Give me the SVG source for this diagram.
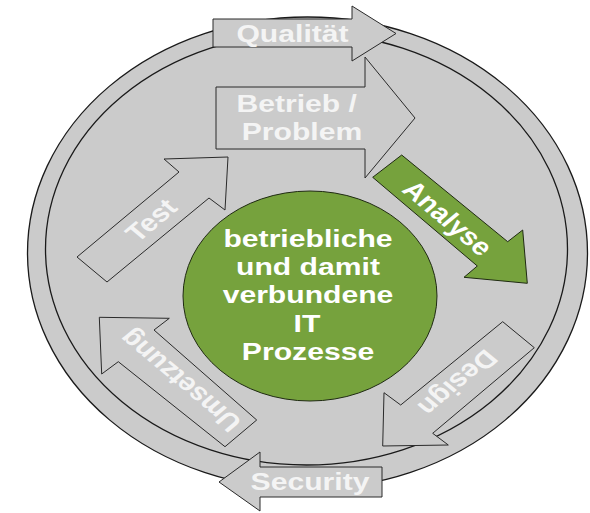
<svg xmlns="http://www.w3.org/2000/svg" width="590" height="513" viewBox="0 0 590 513">
<style>
.ring{fill:#cbcbcb;stroke:#1a1a1a;stroke-width:1.3}
.arr{fill:#cbcbcb;stroke:#2a2a2a;stroke-width:1}
.green{fill:#76a23d;stroke:#1f2a12;stroke-width:1}
.t{font-family:"Liberation Sans",Arial,sans-serif;font-weight:bold;font-size:24.5px;fill:#ffffff;text-anchor:middle}
.g{fill:#f4f4f4}
</style>
<rect width="590" height="513" fill="#ffffff"/>
<g id="ring">
<ellipse class="ring" cx="307.5" cy="253" rx="280" ry="236"/>
<ellipse class="ring" cx="306.5" cy="249" rx="261" ry="216"/>
</g>
<g id="center">
<ellipse class="green" cx="310" cy="296" rx="127" ry="105"/>
<text class="t" transform="translate(308,246.7) scale(1.23,1)">betriebliche</text>
<text class="t" transform="translate(308,275) scale(1.23,1)">und damit</text>
<text class="t" transform="translate(308,303) scale(1.23,1)">verbundene</text>
<text class="t" transform="translate(307,331.7) scale(1.23,1)">IT</text>
<text class="t" transform="translate(308,360) scale(1.23,1)">Prozesse</text>
</g>
<g id="connectors">
<g id="qualitaet">
<polygon class="arr" points="213,19 352,19 352,6 396,33.5 352,61 352,47 213,47"/>
<text class="t g" transform="translate(292.5,41.5) scale(1.23,1)">Qualität</text>
</g>
<g id="betrieb">
<polygon class="arr" points="216,87 365,87 365,57 415,118 365,178 365,149 216,149"/>
<text class="t g" transform="translate(296.7,111.7) scale(1.23,1)">Betrieb /</text>
<text class="t g" transform="translate(302,140) scale(1.23,1)">Problem</text>
</g>
<g id="analyse">
<polygon class="green" points="401.7,155 507.7,241.7 522.7,230 527.3,283.3 464,277.3 477.3,266 372.7,177.3"/>
<text class="t" dy="0.35em" transform="translate(448,218) scale(1.2,1) rotate(45)">Analyse</text>
</g>
<g id="design">
<polygon class="arr" points="502.7,321.7 400.7,405 384,392.7 382.7,446 448.3,445 432.7,433.3 534.3,347.7"/>
<text class="t g" dy="0.35em" transform="translate(458,383) scale(1.2,1) rotate(135)">Design</text>
</g>
<g id="security">
<polygon class="arr" points="382,467 260,467 260,452 219,482 260,511 260,497 382,497"/>
<text class="t g" transform="translate(310,489.5) scale(1.23,1)">Security</text>
</g>
<g id="umsetzung">
<polygon class="arr" points="99.3,317.3 169.3,318.3 154,330 256.7,420 225,446.7 118.3,361.7 101.7,374"/>
<text class="t g" dy="0.35em" transform="translate(180,381) scale(1.2,1) rotate(-135)">Umsetzung</text>
</g>
<g id="test">
<polygon class="arr" points="77,257 179,172 164,159 228,157 225,210 209,198 107,282"/>
<text class="t g" dy="0.35em" transform="translate(151,220) scale(1.2,1) rotate(-45)">Test</text>
</g>
</g>
</svg>
